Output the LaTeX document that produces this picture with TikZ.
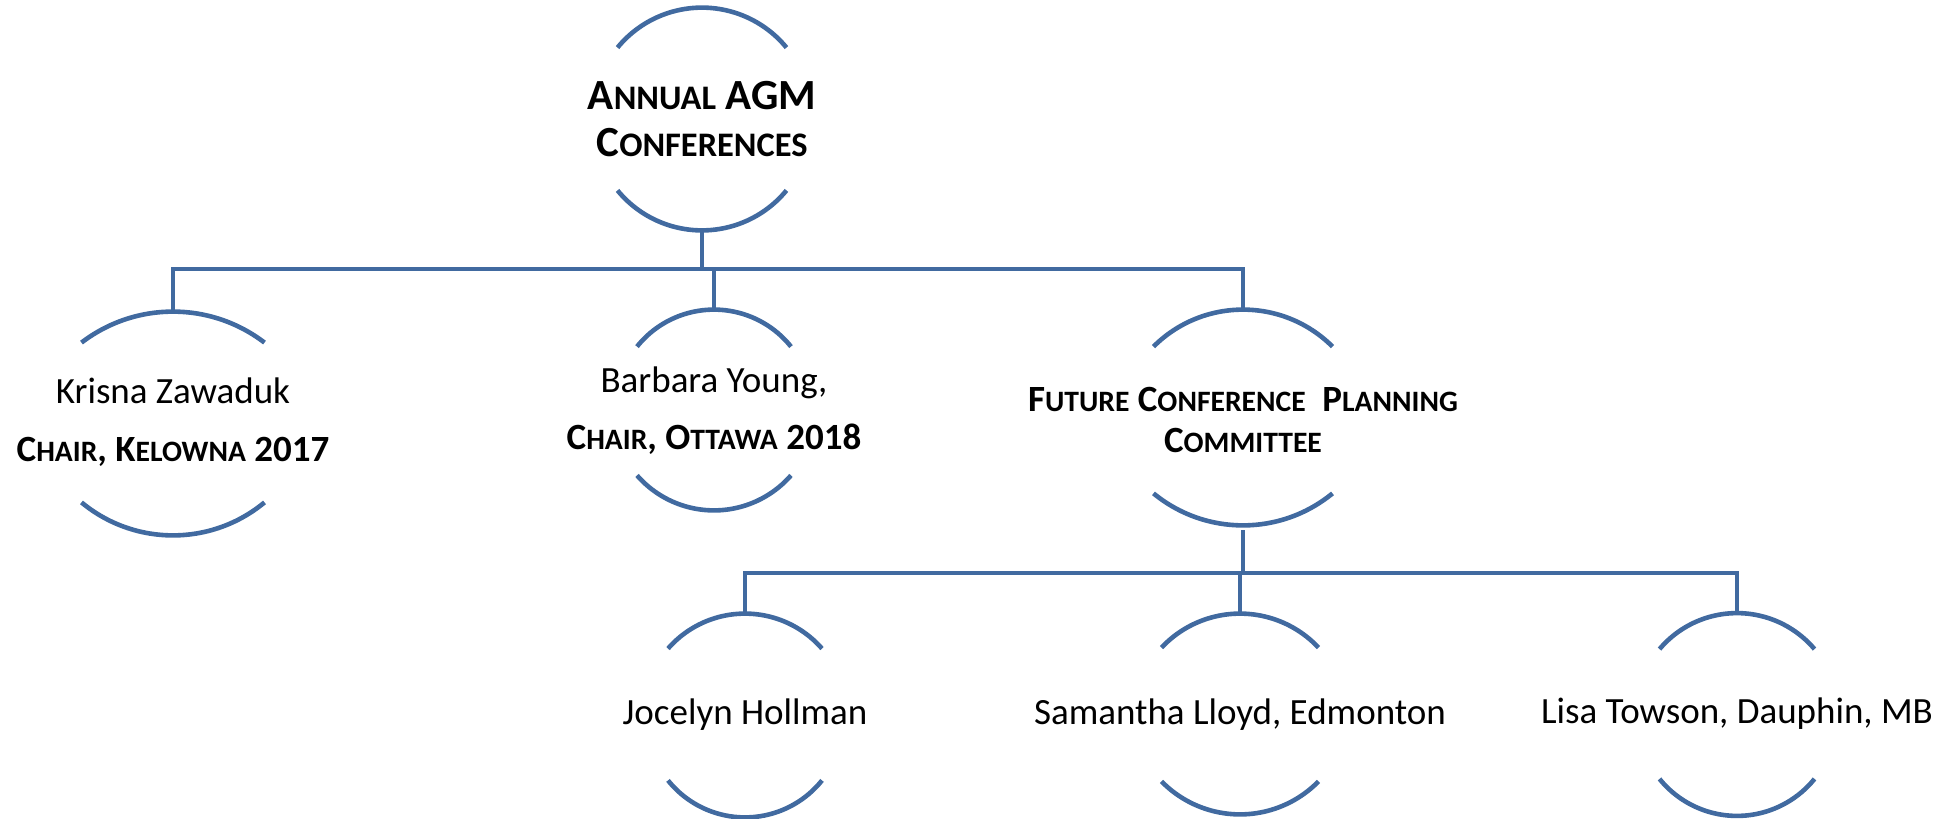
\documentclass[tikz,border=0pt]{standalone}
\usepackage{fontspec}
\setmainfont{Carlito}
\usetikzlibrary{positioning,calc}
\definecolor{linkblue}{RGB}{65,106,160}
\makeatletter
\newcommand{\smc}[1]{{\fontsize{\fpeval{0.8*\f@size}}{0}\selectfont #1}}
\makeatother
% arcs above and below a member: name, half width, top and bottom sagitta
\newcommand{\brackets}[4]{%
    \pgfmathsetmacro\bkttr{(#2*#2+#3*#3)/(2*#3)}
    \pgfmathsetmacro\bktta{asin(#2/\bkttr)}
    \pgfmathsetmacro\bktbr{(#2*#2+#4*#4)/(2*#4)}
    \pgfmathsetmacro\bktba{asin(#2/\bktbr)}
    \draw[link] ($(#1.north)+(-#2,-#3)$) arc[start angle=90+\bktta, end angle=90-\bktta, radius=0.5*\bkttr pt];
    \draw[link] ($(#1.south)+(-#2,#3)$) arc[start angle=270-\bktba, end angle=270+\bktba, radius=0.5*\bktbr pt];
}
\tikzset{
    member/.style={
        rectangle,
        inner sep=0pt,
        align=center,
        minimum height=100.5pt,
        font=\fontsize{18.5}{22}\selectfont
    },
    title_block/.style={
        member,
        font=\fontsize{18.5}{22}\selectfont\bfseries
    },
    link/.style={
        draw=linkblue,
        line width=2.3pt
    },
}
\begin{document}
\begin{tikzpicture}[x=0.5pt, y=0.5pt]
    \useasboundingbox (0,0) rectangle (1954,-819);

    % blocks
    \node[title_block, minimum height=111pt, font=\fontsize{21.5}{23.5}\selectfont\bfseries] (agm) at (702,-119) {A\smc{NNUAL} AGM\\C\smc{ONFERENCES}};

    \node[member, minimum height=110.5pt, font=\fontsize{18.5}{29}\selectfont] (krisna) at (173,-422.5) {Krisna Zawaduk\\\textbf{C\smc{HAIR}, K\smc{ELOWNA} 2017}};
    \node[member, minimum height=101pt, font=\fontsize{18.5}{28.5}\selectfont] (barbara) at (714,-411) {Barbara Young,\\\textbf{C\smc{HAIR}, O\smc{TTAWA} 2018}};
    \node[title_block, minimum height=110pt, font=\fontsize{18.5}{20.5}\selectfont\bfseries] (future) at (1243,-420) {F\smc{UTURE} C\smc{ONFERENCE}\ \ P\smc{LANNING}\\C\smc{OMMITTEE}};

    \node[member] (jocelyn) at (745,-714.5) {Jocelyn Hollman};
    \node[member] (samantha) at (1240,-714.5) {Samantha Lloyd, Edmonton};
    \node[member] (lisa) at (1737,-714) {Lisa Towson, Dauphin, MB};

    % arcs
    \brackets{agm}{84.5}{40}{40}
    \brackets{krisna}{91.5}{31}{33}
    \brackets{barbara}{77}{37}{35}
    \brackets{future}{89.5}{37}{32}
    \brackets{jocelyn}{77}{35}{37}
    \brackets{samantha}{78.5}{34}{33}
    \brackets{lisa}{77.5}{36}{37}

    % bars
    \coordinate (bar1) at (0,-269);
    \coordinate (bar2) at (0,-573);

    % lines
    \draw[link] (agm.south) -- (agm.south |- bar1);
    \draw[link] (krisna.north) |- (future.north |- bar1) -- (future.north);
    \draw[link] (barbara.north) -- (barbara.north |- bar1);
    \draw[link] (future.south) -- (future.south |- bar2);
    \draw[link] (jocelyn.north) |- (lisa.north |- bar2) -- (lisa.north);
    \draw[link] (samantha.north) -- (samantha.north |- bar2);

\end{tikzpicture}
\end{document}
